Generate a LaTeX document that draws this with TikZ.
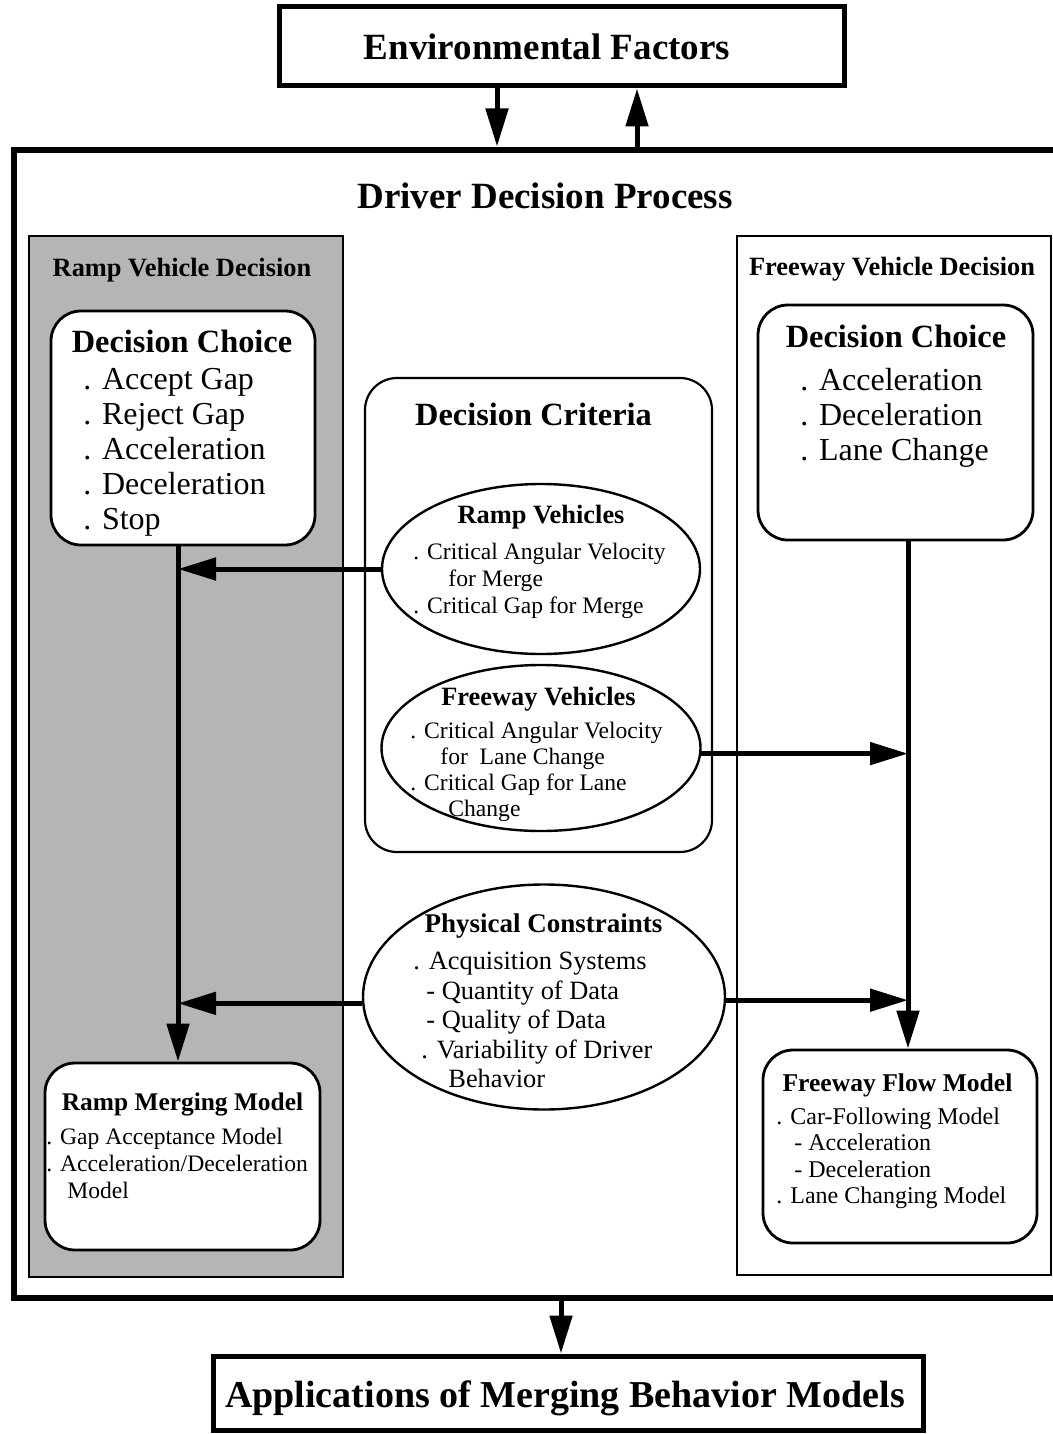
\documentclass[tikz,border=0pt]{standalone}
\usepackage{fontspec}
\setmainfont{Liberation Serif}
\usetikzlibrary{arrows.meta,shapes.geometric}
\definecolor{rampgray}{gray}{0.71}
\begin{document}
\begin{tikzpicture}[x=0.5pt,y=-0.5pt,
  heavybox/.style={draw,line width=2.5pt,rectangle,inner sep=0pt},
  panelbox/.style={draw,line width=1pt,rectangle,inner sep=0pt},
  roundbox/.style={draw,line width=1.4pt,rectangle,rounded corners=15pt,fill=white,inner sep=0pt},
  critbox/.style={draw,line width=1.1pt,rectangle,rounded corners=16pt,inner sep=0pt},
  oval/.style={draw,line width=1.2pt,ellipse,fill=white,inner sep=0pt},
  bigtitle/.style={font=\bfseries\fontsize{18.5}{22}\selectfont,inner sep=0pt,anchor=north},
  boxtitle/.style={font=\bfseries\fontsize{16.2}{19}\selectfont,inner sep=0pt,anchor=north},
  subtitle/.style={font=\bfseries\fontsize{13.2}{15}\selectfont,inner sep=0pt,anchor=north},
  listbig/.style={font=\fontsize{16}{17.5}\selectfont,align=left,inner sep=0pt,anchor=north west},
  listsmall/.style={font=\fontsize{11.8}{13.5}\selectfont,align=left,inner sep=0pt,anchor=north west},
  conn/.style={line width=2.5pt,-{Triangle[length=19pt,width=11pt]}},
]
\useasboundingbox (0,0) rectangle (1053,1434);

% outer frame of the decision process (runs past the right margin)
\node[heavybox,line width=3pt,minimum width=524pt,minimum height=574.25pt] (proc) at (538,723.75) {};
\node[bigtitle] (proct) at (545,182) {Driver Decision Process};

% top and bottom boxes
\node[heavybox,minimum width=282.5pt,minimum height=39.5pt] (env) at (561.5,46.5) {};
\node[bigtitle] (envt) at (547,33) {Environmental Factors};
\node[heavybox,minimum width=355pt,minimum height=37pt] (apps) at (568,1393) {};
\node[bigtitle,font=\bfseries\fontsize{19}{22}\selectfont] (appst) at (565,1380) {Applications of Merging Behavior Models};

% side panels
\node[panelbox,fill=rampgray,minimum width=157pt,minimum height=520.5pt] (rpanel) at (186,756.5) {};
\node[subtitle] (rpanelt) at (182,258) {Ramp Vehicle Decision};
\node[panelbox,minimum width=157pt,minimum height=519.5pt] (fpanel) at (894,755.5) {};
\node[subtitle] (fpanelt) at (892,257) {Freeway Vehicle Decision};

% ramp side boxes
\node[roundbox,minimum width=132pt,minimum height=117pt] (rdc) at (183,428) {};
\node[boxtitle] (rdct) at (182,330) {Decision Choice};
\node[listbig] (rdcl) at (83,368) {. Accept Gap\\. Reject Gap\\. Acceleration\\. Deceleration\\. Stop};

\node[roundbox,minimum width=137.5pt,minimum height=93.5pt] (rmm) at (182.5,1156.5) {};
\node[subtitle,font=\bfseries\fontsize{12.7}{15}\selectfont] (rmmt) at (182.5,1092) {Ramp Merging Model};
\node[listsmall] (rmml) at (46,1128) {. Gap Acceptance Model\\. Acceleration/Deceleration\\\hspace*{10.5pt}Model};

% freeway side boxes
\node[roundbox,minimum width=137.5pt,minimum height=117.5pt] (fdc) at (895.5,422.5) {};
\node[boxtitle] (fdct) at (896,325) {Decision Choice};
\node[listbig] (fdcl) at (800,368) {. Acceleration\\. Deceleration\\. Lane Change};

\node[roundbox,minimum width=137pt,minimum height=96.5pt] (ffm) at (900,1146.5) {};
\node[subtitle,font=\bfseries\fontsize{12.8}{15}\selectfont] (ffmt) at (897.5,1073) {Freeway Flow Model};
\node[listsmall,font=\fontsize{12}{13.25}\selectfont] (ffml) at (776,1107) {. Car-Following Model\\\hspace*{9pt}- Acceleration\\\hspace*{9pt}- Deceleration\\. Lane Changing Model};

% decision criteria
\node[critbox,minimum width=173.5pt,minimum height=237pt] (crit) at (538.5,615) {};
\node[boxtitle] (critt) at (533.5,403) {Decision Criteria};

\node[oval,minimum width=159pt,minimum height=85pt] (rv) at (541,569) {};
\node[subtitle] (rvt) at (541,505) {Ramp Vehicles};
\node[listsmall] (rvl) at (413,543) {. Critical Angular Velocity\\\hspace*{17.5pt}for Merge\\. Critical Gap for Merge};

\node[oval,minimum width=159.5pt,minimum height=83pt] (fv) at (541,748) {};
\node[subtitle] (fvt) at (538.5,687) {Freeway Vehicles};
\node[listsmall,font=\fontsize{11.8}{13}\selectfont] (fvl) at (410,722) {. Critical Angular Velocity\\\hspace*{15pt}for\ \ Lane Change\\. Critical Gap for Lane\\\hspace*{19pt}Change};

\node[oval,minimum width=181pt,minimum height=112.5pt] (pc) at (544,997) {};
\node[subtitle,font=\bfseries\fontsize{13.5}{15}\selectfont] (pct) at (543.5,913) {Physical Constraints};
\node[listsmall,font=\fontsize{13.2}{14.75}\selectfont] (pcl) at (413,952) {. Acquisition Systems\\\hspace*{6.5pt}- Quantity of Data\\\hspace*{6.5pt}- Quality of Data\\\hspace*{4pt}. Variability of Driver\\\hspace*{17.5pt}Behavior};

% connector columns
\coordinate (envdn) at (497,0);
\coordinate (envup) at (637,0);
\coordinate (outx) at (561,0);
\coordinate (rampx) at (178,0);
\coordinate (fwyx) at (908,0);

\draw[conn] (env.south -| envdn) -- (proc.north -| envdn);
\draw[conn] (proc.north -| envup) -- (env.south -| envup);
\draw[conn] (proc.south -| outx) -- (apps.north -| outx);

\draw[conn] (rdc.south -| rampx) -- (rmm.north -| rampx);
\draw[conn] (rv.west) -- (rv.west -| rampx);
\draw[conn] (pc.182) -- (pc.182 -| rampx);

\draw[conn] (fdc.south -| fwyx) -- (ffm.north -| fwyx);
\draw[conn] (fv.-2) -- (fv.-2 -| fwyx);
\draw[conn] (pc.-1) -- (pc.-1 -| fwyx);
\end{tikzpicture}
\end{document}
